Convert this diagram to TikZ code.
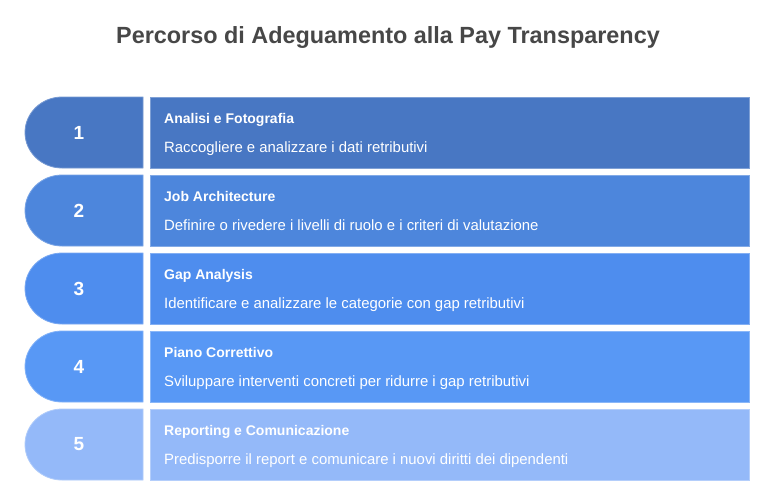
\documentclass[tikz,border=0pt]{standalone}
\usepackage{fontspec}
\setmainfont{Liberation Sans}
\definecolor{rowA}{HTML}{4877C3}
\definecolor{rowB}{HTML}{4D86DC}
\definecolor{rowC}{HTML}{4E8DEE}
\definecolor{rowD}{HTML}{5898F5}
\definecolor{rowE}{HTML}{94B9F9}
\definecolor{titlegray}{HTML}{474747}
\tikzset{
  tabshape/.style={line width=0.8pt},
  boxshape/.style={rectangle, line width=0.8pt, inner sep=0pt, minimum width=599pt, minimum height=71pt, anchor=north west},
  numtext/.style={text=white, font=\fontsize{19}{22}\selectfont\bfseries, anchor=center, inner sep=0pt},
  headtext/.style={text=white, font=\fontsize{14}{16}\selectfont\bfseries, anchor=base west, inner sep=0pt},
  desctext/.style={text=white, font=\fontsize{14.9}{17}\selectfont, anchor=base west, inner sep=0pt},
  titletext/.style={text=titlegray, font=\fontsize{23.4}{27}\selectfont\bfseries, anchor=base, inner sep=0pt}
}
\begin{document}
\begin{tikzpicture}[x=1pt,y=-1pt]
\useasboundingbox (0,0) rectangle (774,499);
\fill[white] (0,0) rectangle (774,499);
\node[titletext] (title) at (388,43) {Percorso di Adeguamento alla Pay Transparency};
\foreach \k/\col/\head/\desc [count=\i from 0] in {
  1/rowA/{Analisi e Fotografia}/{Raccogliere e analizzare i dati retributivi},
  2/rowB/{Job Architecture}/{Definire o rivedere i livelli di ruolo e i criteri di valutazione},
  3/rowC/{Gap Analysis}/{Identificare e analizzare le categorie con gap retributivi},
  4/rowD/{Piano Correttivo}/{Sviluppare interventi concreti per ridurre i gap retributivi},
  5/rowE/{Reporting e Comunicazione}/{Predisporre il report e comunicare i nuovi diritti dei dipendenti}} {
  \pgfmathsetmacro{\top}{97+78*\i}
  \pgfmathsetmacro{\mid}{\top+35.5}
  \pgfmathsetmacro{\bot}{\top+71}
  \draw[tabshape, fill=\col, draw=\col!75!white] (143,\top) -- (62,\top)
     arc[start angle=270, end angle=90, x radius=37, y radius=35.5] -- (143,\bot) -- cycle;
  \coordinate (tab\k) at (84,\mid);
  \node[boxshape, fill=\col, draw=\col!70!white] (box\k) at (150,\top) {};
  \node[numtext] (num\k) at (79,\mid) {\k};
  \node[headtext] (head\k) at (164,\top+26) {\head};
  \node[desctext] (desc\k) at (164,\top+55.5) {\desc};
}
\end{tikzpicture}
\end{document}
